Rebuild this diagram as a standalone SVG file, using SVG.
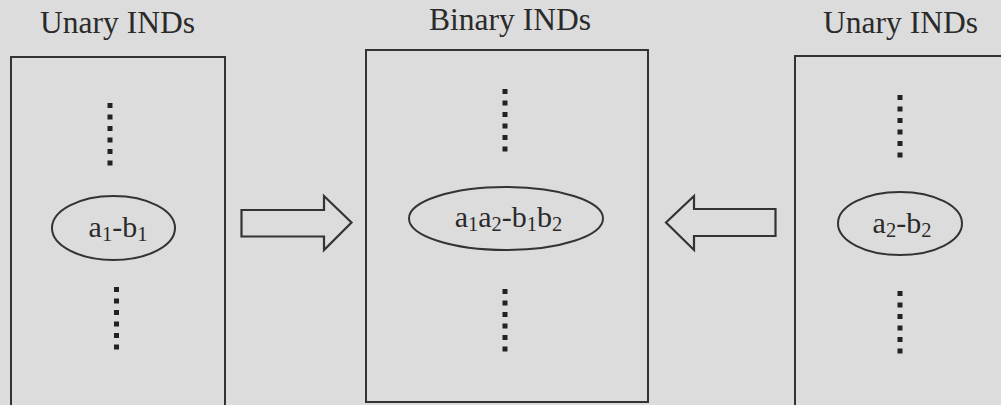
<svg xmlns="http://www.w3.org/2000/svg" width="1001" height="405" viewBox="0 0 1001 405">
<style>
.bg{fill:#dcdcdc}
.box{fill:none;stroke:#333;stroke-width:2}
.ell{fill:none;stroke:#333;stroke-width:2}
.dots{stroke:#222;stroke-width:5;stroke-dasharray:5 6.5;fill:none}
.arr{fill:none;stroke:#333;stroke-width:2.2;stroke-linejoin:miter}
.title{font-family:"Liberation Serif",serif;font-size:31.5px;fill:#2a2a2a;text-anchor:middle}
.lbl{font-family:"Liberation Serif",serif;font-size:30px;fill:#2a2a2a;text-anchor:middle}
.sub{font-size:20.5px}
</style>
<rect class="bg" x="0" y="0" width="1001" height="405"/>
<g id="left">
<text class="title" x="117.5" y="33">Unary INDs</text>
<rect class="box" x="11" y="57" width="214" height="360"/>
<line class="dots" x1="110" y1="103" x2="110" y2="168"/>
<ellipse class="ell" cx="113.5" cy="228" rx="61.5" ry="32"/>
<text class="lbl" x="118" y="237">a<tspan class="sub" dy="4">1</tspan><tspan dy="-4">-b</tspan><tspan class="sub" dy="4">1</tspan></text>
<line class="dots" x1="116.5" y1="287" x2="116.5" y2="352"/>
</g>
<g id="middle">
<text class="title" x="510" y="30">Binary INDs</text>
<rect class="box" x="366" y="50" width="282" height="352"/>
<line class="dots" x1="505" y1="89" x2="505" y2="155"/>
<ellipse class="ell" cx="506" cy="218.5" rx="97" ry="31.5"/>
<text class="lbl" x="508.5" y="227">a<tspan class="sub" dy="4">1</tspan><tspan dy="-4">a</tspan><tspan class="sub" dy="4">2</tspan><tspan dy="-4">-b</tspan><tspan class="sub" dy="4">1</tspan><tspan dy="-4">b</tspan><tspan class="sub" dy="4">2</tspan></text>
<line class="dots" x1="505" y1="289" x2="505" y2="354"/>
</g>
<g id="right">
<text class="title" x="900.5" y="33">Unary INDs</text>
<rect class="box" x="795" y="56" width="230" height="360"/>
<line class="dots" x1="900" y1="95" x2="900" y2="159"/>
<ellipse class="ell" cx="900" cy="223.5" rx="62" ry="31.5"/>
<text class="lbl" x="902" y="233">a<tspan class="sub" dy="4">2</tspan><tspan dy="-4">-b</tspan><tspan class="sub" dy="4">2</tspan></text>
<line class="dots" x1="900" y1="291" x2="900" y2="356"/>
</g>
<g id="connectors">
<polygon class="arr" points="241.5,210 324,210 324,196 351.5,222.5 324,250 324,236.5 241.5,236.5"/>
<polygon class="arr" points="775.5,209 694,209 694,196 666,222.5 694,250 694,236 775.5,236"/>
</g>
</svg>
